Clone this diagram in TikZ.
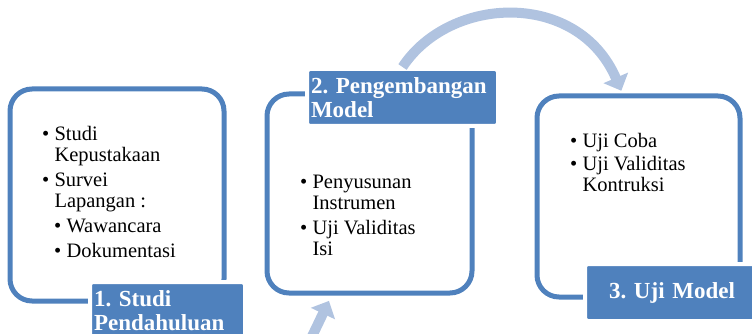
\documentclass[tikz,border=0pt]{standalone}
\usepackage{fontspec}
\setmainfont{Liberation Serif}
\usepackage{xcolor}
\usetikzlibrary{arrows.meta}
\definecolor{stageblue}{HTML}{4F81BD}
\definecolor{flowblue}{HTML}{B0C3E0}
\newcommand{\itemline}{\textbullet~}
\newcommand{\itemgap}{\hphantom{\textbullet~}}
\newcommand{\nesteditem}{\hspace{12pt}\textbullet~}
\frenchspacing

\begin{document}
\begin{tikzpicture}[x=1pt, y=-1pt,
    stagebox/.style={draw=stageblue, line width=5pt, rounded corners=22pt},
    stagelabel/.style={draw=white, line width=4pt, fill=stageblue, rounded corners=3pt,
                       text=white, font=\fontsize{23}{24}\selectfont\bfseries,
                       inner xsep=4pt, inner ysep=0pt, anchor=north west, minimum height=57pt},
    itemtext/.style={inner sep=0pt, anchor=north west, align=left,
                     font=\fontsize{20.5}{21}\selectfont},
    flow/.style={-{Triangle[width=26pt, length=14pt]}, line width=10pt, flowblue}
  ]
    \useasboundingbox (0,0) rectangle (752,334);

    % Stage boxes
    \node[stagebox, minimum width=214pt, minimum height=212pt] (box1) at (117,195) {};
    \node[stagebox, minimum width=205pt, minimum height=199pt] (box2) at (369.5,193.5) {};
    \node[stagebox, minimum width=203pt, minimum height=201pt] (box3) at (638.5,196.5) {};

    % Arrows between stages
    \coordinate (lowstart) at (290,372);
    \draw[flow, shorten >=6pt] (lowstart) .. controls (308,345) .. ([xshift=-38pt]box2.south);

    % Stage labels
    \node[stagelabel, text width=147pt, align=left] (lab1) at (88,280)
      {1. Studi\\Pendahuluan};
    \node[stagelabel, text width=183pt, align=left] (lab2) at (305,67)
      {2. Pengembangan\\Model};
    \node[stagelabel, text width=166pt, align=center] (lab3) at (583,262)
      {3. Uji Model};

    \draw[flow, shorten >=3pt] (lab2.north) .. controls (450,-5) and (578,-10)
      .. ([xshift=-16pt]box3.north);

    % Stage contents
    \node[itemtext] (items1) at (42,126)
      {\itemline Studi\\ \itemgap Kepustakaan\\[4pt]
       \itemline Survei\\ \itemgap Lapangan :\\[4pt]
       \nesteditem Wawancara\\[4pt]
       \nesteditem Dokumentasi};
    \node[itemtext] (items2) at (300,175)
      {\itemline Penyusunan\\ \itemgap Instrumen\\[4pt]
       \itemline Uji Validitas\\ \itemgap Isi};
    \node[itemtext] (items3) at (570,133)
      {\itemline Uji Coba\\[2pt]
       \itemline Uji Validitas\\ \itemgap Kontruksi};
  \end{tikzpicture}
\end{document}
